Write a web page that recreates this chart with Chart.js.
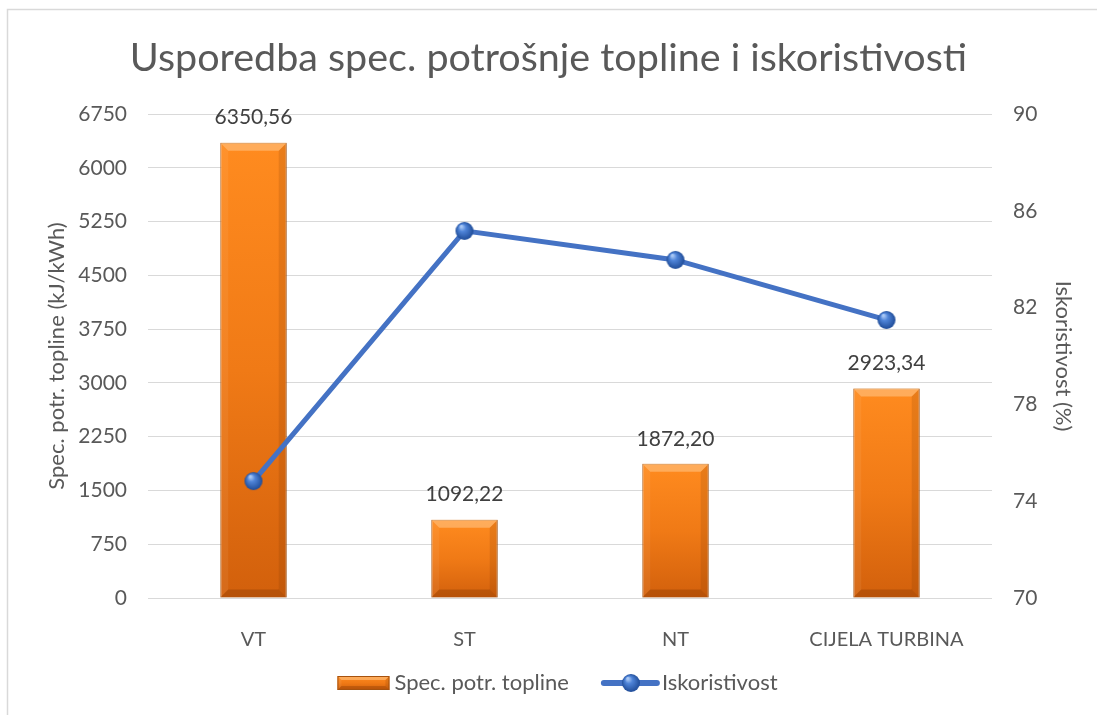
<!DOCTYPE html>
<html>
<head>
<meta charset="utf-8">
<script src="https://cdn.jsdelivr.net/npm/chart.js@4.4.1/dist/chart.umd.min.js"></script>
<style>
  html, body { margin: 0; padding: 0; background: #fff; }
  canvas { display: block; }
</style>
</head>
<body>
<canvas id="chart" width="1097" height="715"></canvas>
<script>
// podaci
const categories = ["VT", "ST", "NT", "CIJELA TURBINA"];
const specPotrosnja = [6350.56, 1092.22, 1872.20, 2923.34];
const iskoristivost = [74.83, 85.17, 83.97, 81.49];
const leftTicks = [0, 750, 1500, 2250, 3000, 3750, 4500, 5250, 6000, 6750];
const rightTicks = [70, 74, 78, 82, 86, 90];

const FONT = "Lato, 'Open Sans', sans-serif";
const GREY = "#595959";
const BLUE = "#4472C4";

// kuglica za tocke linije
function makeSphere(r) {
  const c = document.createElement("canvas");
  c.width = c.height = r * 2 + 2;
  const g = c.getContext("2d");
  const grad = g.createRadialGradient(r * 0.75, r * 0.6, r * 0.1, r + 1, r + 1, r);
  grad.addColorStop(0, "#a9c8f5");
  grad.addColorStop(0.35, "#4f84d8");
  grad.addColorStop(1, "#1f4c98");
  g.fillStyle = grad;
  g.beginPath();
  g.arc(r + 1, r + 1, r, 0, Math.PI * 2);
  g.fill();
  return c;
}
const sphere = makeSphere(9);

function barGradient(ctx, top, bottom) {
  const g = ctx.createLinearGradient(0, top, 0, bottom);
  g.addColorStop(0, "#FF8B1F");
  g.addColorStop(0.5, "#F07A16");
  g.addColorStop(1, "#D2600C");
  return g;
}

function drawBevel(ctx, L, R, T, B, b) {
  ctx.save();
  ctx.fillStyle = "rgba(255,200,140,0.55)";
  ctx.beginPath();
  ctx.moveTo(L, T); ctx.lineTo(R, T); ctx.lineTo(R - b, T + b); ctx.lineTo(L + b, T + b);
  ctx.closePath(); ctx.fill();
  ctx.fillStyle = "rgba(110,45,0,0.15)";
  ctx.beginPath();
  ctx.moveTo(R, T); ctx.lineTo(R, B); ctx.lineTo(R - b, B - b); ctx.lineTo(R - b, T + b);
  ctx.closePath(); ctx.fill();
  ctx.fillStyle = "rgba(255,230,200,0.08)";
  ctx.beginPath();
  ctx.moveTo(L, T); ctx.lineTo(L + b, T + b); ctx.lineTo(L + b, B - b); ctx.lineTo(L, B);
  ctx.closePath(); ctx.fill();
  ctx.fillStyle = "rgba(100,40,0,0.25)";
  ctx.beginPath();
  ctx.moveTo(L, B); ctx.lineTo(L + b, B - b); ctx.lineTo(R - b, B - b); ctx.lineTo(R, B);
  ctx.closePath(); ctx.fill();
  ctx.restore();
}

const framePlugin = {
  id: "frame",
  beforeDraw(chart) {
    const ctx = chart.ctx;
    ctx.save();
    ctx.fillStyle = "#fff";
    ctx.fillRect(0, 0, chart.width, chart.height);
    ctx.strokeStyle = "#d9d9d9";
    ctx.lineWidth = 1.5;
    ctx.strokeRect(7.5, 9.5, chart.width + 20, chart.height + 20);
    ctx.restore();
  }
};

const barExtras = {
  id: "barExtras",
  afterDatasetDraw(chart, args) {
    if (args.index !== 0) return;
    const ctx = chart.ctx;
    args.meta.data.forEach(bar => {
      const L = bar.x - bar.width / 2, R = bar.x + bar.width / 2;
      drawBevel(ctx, L, R, bar.y, bar.base, 8);
    });
  },
  afterDatasetsDraw(chart) {
    const ctx = chart.ctx;
    const meta = chart.getDatasetMeta(0);
    ctx.save();
    ctx.font = "21px " + FONT;
    ctx.fillStyle = "#404040";
    ctx.textAlign = "center";
    ctx.textBaseline = "middle";
    meta.data.forEach((bar, i) => {
      ctx.fillText(specPotrosnja[i].toFixed(2).replace(".", ","), bar.x, bar.y - 25);
    });
    ctx.restore();
  }
};

const legendPlugin = {
  id: "customLegend",
  afterDraw(chart) {
    const ctx = chart.ctx;
    const y = 683;
    ctx.save();
    ctx.font = "22px " + FONT;
    const t1 = "Spec. potr. topline", t2 = "Iskoristivost";
    const w1 = ctx.measureText(t1).width, w2 = ctx.measureText(t2).width;
    const total = 52 + 5 + w1 + 32 + 59 + 2 + w2;
    let x = chart.width / 2 - total / 2 + 9;
    // ikona stupca
    ctx.fillStyle = barGradient(ctx, y - 7, y + 7);
    ctx.fillRect(x, y - 7, 52, 14);
    drawBevel(ctx, x, x + 52, y - 7, y + 7, 4);
    ctx.strokeStyle = "#A6520E";
    ctx.lineWidth = 1;
    ctx.strokeRect(x + 0.5, y - 6.5, 51, 13);
    x += 57;
    ctx.fillStyle = GREY;
    ctx.textBaseline = "middle";
    ctx.fillText(t1, x, y);
    x += w1 + 32;
    // ikona linije
    ctx.strokeStyle = BLUE;
    ctx.lineWidth = 6;
    ctx.lineCap = "round";
    ctx.beginPath();
    ctx.moveTo(x + 3, y); ctx.lineTo(x + 56, y);
    ctx.stroke();
    ctx.drawImage(sphere, x + 30 - 10, y - 10);
    x += 61;
    ctx.fillStyle = GREY;
    ctx.fillText(t2, x, y);
    ctx.restore();
  }
};

new Chart(document.getElementById("chart"), {
  data: {
    labels: categories,
    datasets: [
      {
        type: "bar",
        label: "Spec. potr. topline",
        data: specPotrosnja,
        yAxisID: "y",
        order: 1,
        categoryPercentage: 1,
        barPercentage: 0.315,
        borderWidth: 1,
        borderColor: "#A6520E",
        backgroundColor: ctx => {
          const chart = ctx.chart;
          if (!chart.chartArea || ctx.dataIndex === undefined) return "#F07A16";
          const s = chart.scales.y;
          return barGradient(chart.ctx, s.getPixelForValue(specPotrosnja[ctx.dataIndex]), s.getPixelForValue(0));
        }
      },
      {
        type: "line",
        label: "Iskoristivost",
        data: iskoristivost,
        yAxisID: "y1",
        order: 0,
        borderColor: BLUE,
        borderWidth: 5,
        pointStyle: sphere,
        pointRadius: 9,
        tension: 0
      }
    ]
  },
  options: {
    responsive: false,
    animation: false,
    devicePixelRatio: 1,
    layout: { padding: 0 },
    plugins: {
      legend: { display: false },
      tooltip: { enabled: false },
      title: {
        display: true,
        text: "Usporedba spec. potrošnje topline i iskoristivosti",
        color: GREY,
        font: { family: FONT, size: 39.5, weight: "normal", lineHeight: 1.2 },
        padding: { top: 34.3, bottom: 32.3 }
      }
    },
    scales: {
      x: {
        grid: { display: false },
        border: { display: false },
        ticks: { color: GREY, font: { family: FONT, size: 20 }, padding: 22 },
        afterFit: s => { s.height = 117; }
      },
      y: {
        position: "left",
        min: 0,
        max: 6750,
        afterBuildTicks: s => { s.ticks = leftTicks.map(v => ({ value: v })); },
        ticks: { color: GREY, font: { family: FONT, size: 21 }, padding: 21, callback: v => String(v) },
        grid: { color: "#d9d9d9", lineWidth: 1, drawTicks: false },
        border: { display: false },
        title: {
          display: true,
          text: "Spec. potr. topline (kJ/kWh)",
          color: GREY,
          font: { family: FONT, size: 22 },
          padding: { top: 44, bottom: 0 }
        },
        afterFit: s => { s.width = 148; }
      },
      y1: {
        position: "right",
        min: 70,
        max: 90,
        afterBuildTicks: s => { s.ticks = rightTicks.map(v => ({ value: v })); },
        ticks: { color: GREY, font: { family: FONT, size: 21 }, padding: 21, callback: v => String(v) },
        grid: { display: false, drawTicks: false },
        border: { display: false },
        title: {
          display: true,
          text: "Iskoristivost (%)",
          color: GREY,
          font: { family: FONT, size: 22 },
          padding: { top: 21, bottom: 0 }
        },
        afterFit: s => { s.width = 105; }
      }
    }
  },
  plugins: [framePlugin, barExtras, legendPlugin]
});
</script>
</body>
</html>
